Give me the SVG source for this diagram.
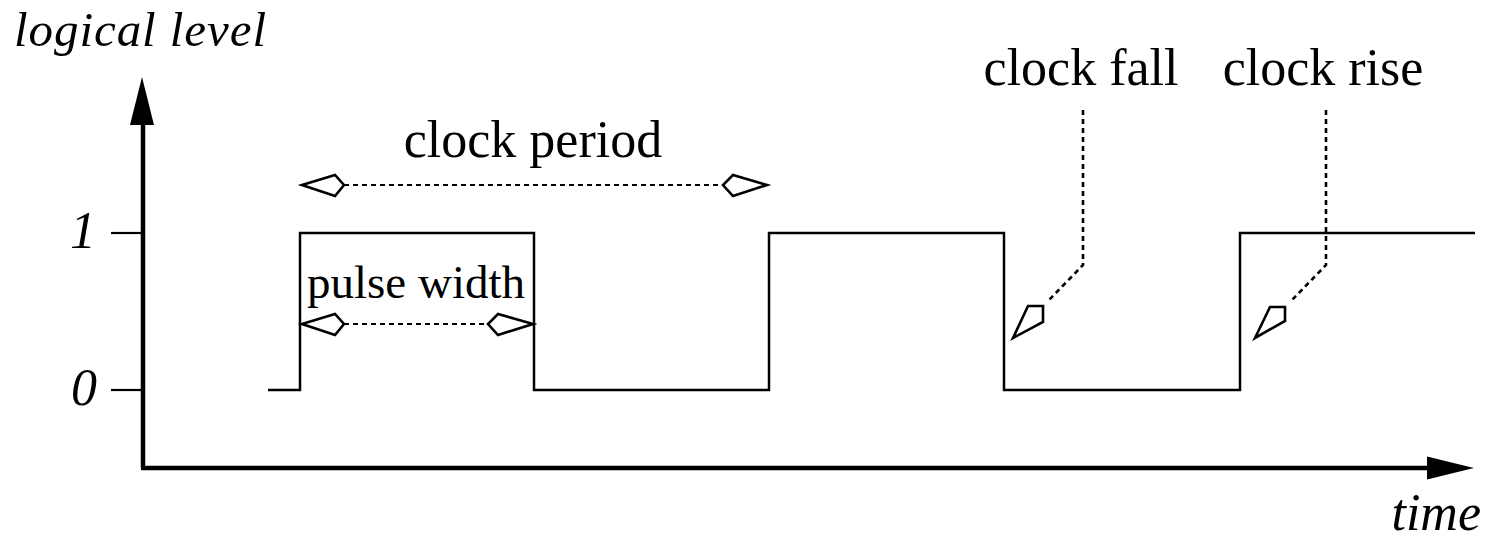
<svg xmlns="http://www.w3.org/2000/svg" width="1487" height="544" viewBox="0 0 1487 544">
  <style>
    .lbl { font-family: "Liberation Serif", "Times New Roman", serif; font-size: 52px; fill: #000; }
    .it { font-style: italic; }
    .axis { stroke: #000; stroke-width: 4.5; fill: none; }
    .tick { stroke: #000; stroke-width: 2.2; fill: none; }
    .sig { stroke: #000; stroke-width: 2.5; fill: none; stroke-linejoin: miter; }
    .dim { stroke: #000; stroke-width: 2.2; fill: none; stroke-dasharray: 5 4; }
    .lead { stroke: #000; stroke-width: 2.6; fill: none; stroke-dasharray: 5 4; }
    .dia { stroke: #000; stroke-width: 2.6; fill: #fff; stroke-linejoin: miter; }
  </style>

  <!-- axes -->
  <g id="axes">
    <line class="axis" x1="143" y1="468" x2="143" y2="122"/>
    <polygon points="142,77 130,125 154,125" fill="#000"/>
    <line class="axis" x1="141" y1="468" x2="1430" y2="468"/>
    <polygon points="1474,468 1427,456.5 1427,479.5" fill="#000"/>
    <line class="tick" x1="111" y1="233" x2="143" y2="233"/>
    <line class="tick" x1="111" y1="390" x2="143" y2="390"/>
    <text class="lbl it" x="14" y="46" style="font-size:49px" textLength="252" lengthAdjust="spacing">logical level</text>
    <text class="lbl it" x="1481" y="530" text-anchor="end">time</text>
    <text class="lbl it" x="96" y="248" text-anchor="end">1</text>
    <text class="lbl it" x="97" y="405" text-anchor="end">0</text>
  </g>

  <!-- clock waveform -->
  <g id="clock-signal">
    <polyline class="sig" points="268,390 300,390 300,233 534,233 534,390 769,390 769,233 1004,233 1004,390 1240,390 1240,233 1475,233"/>
  </g>

  <!-- clock period dimension -->
  <g id="clock-period">
    <line class="dim" x1="344" y1="185" x2="723" y2="185"/>
    <polygon class="dia" points="302,185 335,175 344,185 335,196"/>
    <polygon class="dia" points="767,185 733,175 723,185 733,196"/>
    <text class="lbl" x="533" y="157" text-anchor="middle">clock period</text>
  </g>

  <!-- pulse width dimension -->
  <g id="pulse-width">
    <line class="dim" x1="344" y1="324" x2="488" y2="324"/>
    <polygon class="dia" points="302,324 335,314 344,324 335,335"/>
    <polygon class="dia" points="533,324 498,314 488,324 498,335"/>
    <text class="lbl" x="416" y="298" text-anchor="middle" style="font-size:47px">pulse width</text>
  </g>

  <!-- clock fall callout -->
  <g id="clock-fall">
    <polyline class="lead" points="1083,110 1083,265 1049,300"/>
    <polygon class="dia" points="1043,306 1028,306 1013,338 1043,322"/>
    <text class="lbl" x="1081" y="85" text-anchor="middle">clock fall</text>
  </g>

  <!-- clock rise callout -->
  <g id="clock-rise">
    <polyline class="lead" points="1326,110 1326,265 1292,300"/>
    <polygon class="dia" points="1285,307 1270,307 1255,338 1285,321"/>
    <text class="lbl" x="1323" y="85" text-anchor="middle">clock rise</text>
  </g>
</svg>
